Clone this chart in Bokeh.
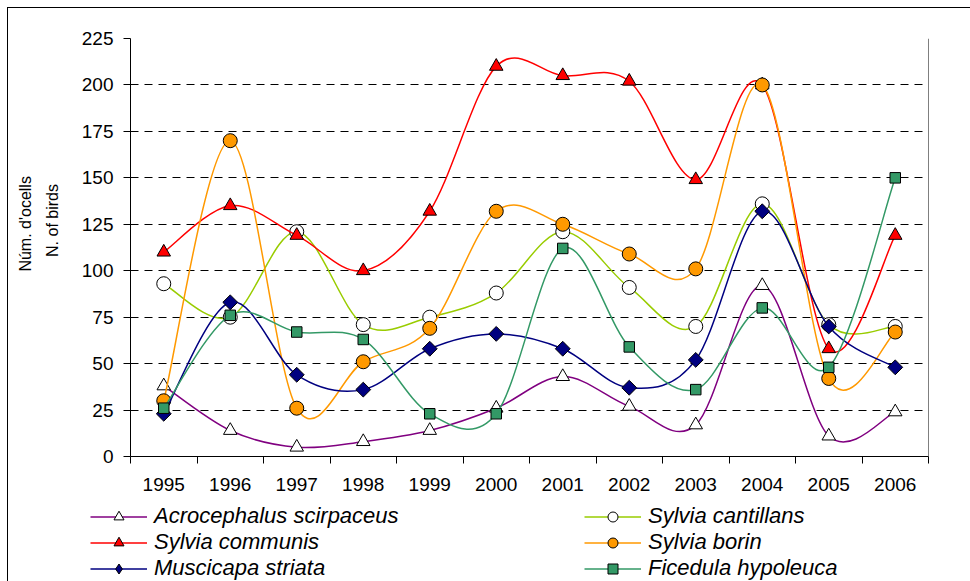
import numpy as np
from math import pi
from bokeh.plotting import figure
from bokeh.layouts import column, row
from bokeh.models import Range1d, FixedTicker, Span, Legend, LegendItem, Label
from bokeh.embed import file_html
from bokeh.resources import INLINE

# ---------------- data ----------------
years = ["1995", "1996", "1997", "1998", "1999", "2000",
         "2001", "2002", "2003", "2004", "2005", "2006"]
y_ticks = [0, 25, 50, 75, 100, 125, 150, 175, 200, 225]

acrocephalus_scirpaceus = [38, 14, 5, 8, 14, 26, 43, 27, 17, 92, 11, 24]
sylvia_cantillans = [93, 75, 121, 71, 75, 88, 121, 91, 70, 136, 71, 70]
sylvia_communis = [110, 135, 119, 100, 132, 210, 205, 202, 149, 200, 58, 119]
sylvia_borin = [30, 170, 26, 51, 69, 132, 125, 109, 101, 200, 42, 67]
muscicapa_striata = [23, 83, 44, 36, 58, 66, 58, 37, 52, 132, 70, 48]
ficedula_hypoleuca = [26, 76, 67, 63, 23, 23, 112, 59, 36, 80, 48, 150]

y_title_1 = "Núm. d'ocells"
y_title_2 = "N. of birds"

# name, values, line colour, chart marker, legend marker, fill, size, angle
series = [
    ("Acrocephalus scirpaceus", acrocephalus_scirpaceus, "#800080", "triangle", "triangle", "#FFFFFF", 13.5, 0.0),
    ("Sylvia cantillans", sylvia_cantillans, "#99CC00", "circle", "circle", "#FFFFFF", 14, 0.0),
    ("Sylvia communis", sylvia_communis, "#FF0000", "triangle", "triangle", "#FF0000", 13.5, 0.0),
    ("Sylvia borin", sylvia_borin, "#FF9900", "circle", "circle", "#FF9900", 14, 0.0),
    ("Muscicapa striata", muscicapa_striata, "#000080", "square", "diamond", "#000080", 10.5, pi / 4),
    ("Ficedula hypoleuca", ficedula_hypoleuca, "#339966", "square", "square", "#339966", 10.5, 0.0),
]

xpos = np.arange(1, len(years) + 1, dtype=float)


def smooth_segments(xs, ys):
    """Bezier control points for a smoothed line through the points."""
    x = np.asarray(xs, float)
    y = np.asarray(ys, float)
    xp = np.concatenate([[x[0]], x, [x[-1]]])
    yp = np.concatenate([[y[0]], y, [y[-1]]])
    n = len(x) - 1
    i = np.arange(n)
    x0, y0 = xp[i], yp[i]
    x1, y1 = xp[i + 1], yp[i + 1]
    x2, y2 = xp[i + 2], yp[i + 2]
    x3, y3 = xp[i + 3], yp[i + 3]
    return dict(
        x0=x1, y0=y1, x1=x2, y1=y2,
        cx0=x1 + (x2 - x0) / 6.0, cy0=y1 + (y2 - y0) / 6.0,
        cx1=x2 - (x3 - x1) / 6.0, cy1=y2 - (y3 - y1) / 6.0,
    )


def blank(fig):
    fig.outline_line_color = None
    fig.background_fill_color = "#FFFFFF"
    fig.border_fill_color = "#FFFFFF"
    fig.grid.visible = False


FONT = "Liberation Sans"
W = 962
W_TITLE = 70
H_CHART = 495
H_LEGEND = 78

# ---------------- y-axis title strip ----------------
t = figure(
    width=W_TITLE, height=H_CHART,
    x_range=Range1d(0, W_TITLE), y_range=Range1d(H_CHART, 0),
    output_backend="svg", toolbar_location=None,
    x_axis_location=None, y_axis_location=None,
    min_border=0, min_border_left=0, min_border_right=0,
    min_border_top=0, min_border_bottom=0,
)
blank(t)
t.add_layout(Label(x=17, y=219.5, text=y_title_1, angle=pi / 2,
                   text_align="center", text_baseline="middle",
                   text_font=FONT, text_font_size="16px", text_color="#000000"))
t.add_layout(Label(x=44, y=215.5, text=y_title_2, angle=pi / 2,
                   text_align="center", text_baseline="middle",
                   text_font=FONT, text_font_size="16px", text_color="#000000"))

# ---------------- main chart ----------------
p = figure(
    width=W - W_TITLE, height=H_CHART,
    x_range=Range1d(0.5, len(years) + 0.5),
    y_range=Range1d(y_ticks[0], y_ticks[-1]),
    output_backend="svg", toolbar_location=None,
    min_border_left=122 - W_TITLE, min_border_right=42,
    min_border_top=30, min_border_bottom=47,
)
blank(p)

p.ygrid.visible = True
p.ygrid.ticker = FixedTicker(ticks=y_ticks)
p.ygrid.grid_line_color = "#000000"
p.ygrid.grid_line_dash = "8 6"
p.ygrid.grid_line_width = 1

p.yaxis.ticker = FixedTicker(ticks=y_ticks)
p.yaxis.axis_line_color = "#000000"
p.yaxis.major_tick_in = 0
p.yaxis.major_tick_out = 7
p.yaxis.minor_tick_line_color = None
p.yaxis.major_label_standoff = 10
p.yaxis.major_label_text_font = FONT
p.yaxis.major_label_text_font_size = "19px"
p.yaxis.major_label_text_color = "#000000"

p.xaxis.ticker = FixedTicker(ticks=list(xpos), minor_ticks=list(np.arange(0.5, len(years) + 1, 1.0)))
p.xaxis.major_label_overrides = {float(x): yr for x, yr in zip(xpos, years)}
p.xaxis.axis_line_color = "#000000"
p.xaxis.major_tick_in = 0
p.xaxis.major_tick_out = 0
p.xaxis.minor_tick_in = 0
p.xaxis.minor_tick_out = 7
p.xaxis.minor_tick_line_color = "#000000"
p.xaxis.major_label_standoff = 14
p.xaxis.major_label_text_font = FONT
p.xaxis.major_label_text_font_size = "19px"
p.xaxis.major_label_text_color = "#000000"

p.add_layout(Span(location=len(years) + 0.5, dimension="height", line_color="#000000", line_width=1))

# ---------------- legend strip ----------------
q = figure(
    width=W, height=H_LEGEND,
    x_range=Range1d(100, 101), y_range=Range1d(1000, 1001),   # series lie out of view; only the legend shows
    output_backend="svg", toolbar_location=None,
    x_axis_location=None, y_axis_location=None,
    min_border=0, min_border_left=0, min_border_right=0,
    min_border_top=0, min_border_bottom=0,
)
blank(q)

items = {}
for name, vals, color, marker, lmarker, fill, size, ang in series:
    seg = smooth_segments(xpos, vals)
    p.bezier(line_color=color, line_width=1.5, **seg)
    p.scatter(x=xpos, y=vals, marker=marker, size=size, angle=ang,
              fill_color=fill, line_color="#000000", line_width=1)
    lk = q.line(x=xpos, y=vals, line_color=color, line_width=1.5)
    mk = q.scatter(x=xpos, y=vals, marker=lmarker, size=size,
                   fill_color=fill, line_color="#000000", line_width=1)
    items[name] = LegendItem(label=name, renderers=[lk, mk])

order = ["Acrocephalus scirpaceus", "Sylvia communis", "Muscicapa striata",
         "Sylvia cantillans", "Sylvia borin", "Ficedula hypoleuca"]
legend = Legend(
    items=[items[k] for k in order],
    location=(82, 0),
    ncols=2,
    orientation="vertical",
    glyph_width=57, glyph_height=25,
    label_height=22, label_width=430,
    label_standoff=7, spacing=0, padding=0, margin=0,
    label_text_font=FONT, label_text_font_size="22px",
    label_text_font_style="italic", label_text_color="#000000",
    border_line_color=None, background_fill_alpha=0,
)
q.add_layout(legend, "center")

layout = column(row(t, p, spacing=0), q, spacing=0,
                styles={"border-left": "1px solid #000000", "border-top": "1px solid #000000",
                        "margin-left": "7px", "margin-top": "7px"})

open("out.html", "w").write(file_html(layout, INLINE))
